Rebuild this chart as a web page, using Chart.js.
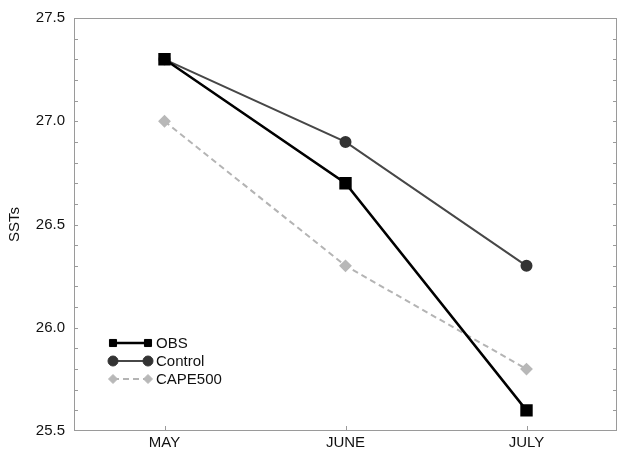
<!DOCTYPE html>
<html>
<head>
<meta charset="utf-8">
<script src="https://cdn.jsdelivr.net/npm/chart.js@4/dist/chart.umd.min.js"></script>
<style>
  html, body { margin: 0; padding: 0; background: #fff; }
  canvas { display: block; }
</style>
</head>
<body>
<canvas id="c" width="617" height="449"></canvas>
<script>
// Monthly SSTs: observations against two model runs
const months = ['MAY', 'JUNE', 'JULY'];
const obs = [27.3, 26.7, 25.6];
const control = [27.3, 26.9, 26.3];
const cape500 = [27.0, 26.3, 25.8];
const yMin = 25.5, yMax = 27.5, yStep = 0.5, yMinorStep = 0.1;

const FONT = '"Liberation Sans", Arial, Helvetica, sans-serif';

// Boxed frame with small inward ticks on left, right and bottom edges
const framePlugin = {
  id: 'frame',
  afterDraw(chart) {
    const { ctx, chartArea: a, scales } = chart;
    const y = scales.y, x = scales.x;
    ctx.save();
    ctx.strokeStyle = '#9a9a9a';
    ctx.lineWidth = 1;
    ctx.strokeRect(a.left + 0.5, a.top + 0.5, a.right - a.left - 1, a.bottom - a.top - 1);
    ctx.beginPath();
    const n = Math.round((yMax - yMin) / yMinorStep);
    for (let i = 1; i < n; i++) {
      const py = Math.round(y.getPixelForValue(yMin + i * yMinorStep)) + 0.5;
      ctx.moveTo(a.left, py); ctx.lineTo(a.left + 4, py);
      ctx.moveTo(a.right, py); ctx.lineTo(a.right - 4, py);
    }
    months.forEach((m, i) => {
      const px = Math.round(x.getPixelForValue(i)) + 0.5;
      ctx.moveTo(px, a.bottom); ctx.lineTo(px, a.bottom - 5);
    });
    ctx.stroke();
    ctx.restore();
  }
};

// Legend drawn as a line segment with a marker at each end
const legendPlugin = {
  id: 'segLegend',
  afterDatasetsDraw(chart) {
    const { ctx, chartArea: a } = chart;
    const x0 = a.left + 39, x1 = a.left + 74, tx = a.left + 82;
    const rowY = [343, 361, 379];
    ctx.save();
    chart.data.datasets.forEach((ds, i) => {
      const yy = rowY[i];
      ctx.beginPath();
      ctx.strokeStyle = ds.borderColor;
      ctx.lineWidth = ds.borderWidth;
      ctx.setLineDash(ds.borderDash || []);
      ctx.moveTo(x0, yy); ctx.lineTo(x1, yy);
      ctx.stroke();
      ctx.setLineDash([]);
      const opts = {
        pointStyle: ds.pointStyle, radius: ds.legendRadius, rotation: 0,
        borderWidth: 1
      };
      ctx.fillStyle = ds.pointBackgroundColor;
      ctx.strokeStyle = ds.pointBorderColor;
      ctx.lineWidth = 1;
      Chart.helpers.drawPoint(ctx, opts, x0, yy);
      Chart.helpers.drawPoint(ctx, opts, x1, yy);
      ctx.fillStyle = '#111';
      ctx.font = '15px ' + FONT;
      ctx.textBaseline = 'middle';
      ctx.textAlign = 'left';
      ctx.fillText(ds.label, tx, yy + 1);
    });
    ctx.restore();
  }
};

new Chart(document.getElementById('c'), {
  type: 'line',
  data: {
    labels: months,
    datasets: [
      {
        label: 'OBS', data: obs,
        borderColor: '#000', borderWidth: 2.5,
        pointStyle: 'rect', pointRadius: 7, legendRadius: 5,
        pointBackgroundColor: '#000', pointBorderColor: '#000',
        tension: 0
      },
      {
        label: 'Control', data: control,
        borderColor: '#474747', borderWidth: 2,
        pointStyle: 'circle', pointRadius: 5, legendRadius: 5,
        pointBackgroundColor: '#333', pointBorderColor: '#333',
        tension: 0
      },
      {
        label: 'CAPE500', data: cape500,
        borderColor: '#b4b4b4', borderWidth: 2, borderDash: [6, 4],
        pointStyle: 'rectRot', pointRadius: 5, legendRadius: 4.5,
        pointBackgroundColor: '#b8b8b8', pointBorderColor: '#b8b8b8',
        tension: 0
      }
    ]
  },
  options: {
    responsive: false,
    animation: false,
    layout: { autoPadding: false, padding: { top: 17, right: 0, bottom: 0, left: 0 } },
    plugins: { legend: { display: false }, tooltip: { enabled: false } },
    scales: {
      x: {
        offset: true,
        grid: { display: false, drawTicks: false },
        border: { display: false },
        ticks: { color: '#111', font: { family: FONT, size: 15 }, padding: 3, maxRotation: 0 },
        afterFit(s) { s.height = 17; s.paddingLeft = 0; s.paddingRight = 0; }
      },
      y: {
        min: yMin, max: yMax,
        grid: { display: false, drawTicks: false },
        border: { display: false },
        ticks: {
          stepSize: yStep, color: '#111', padding: 9,
          font: { family: FONT, size: 15 },
          callback: v => Number(v).toFixed(1)
        },
        title: {
          display: true, text: 'SSTs', color: '#111',
          font: { family: FONT, size: 15 }, padding: { top: 6, bottom: 0 }
        },
        afterFit(s) { s.width = 74; }
      }
    }
  },
  plugins: [framePlugin, legendPlugin]
});
</script>
</body>
</html>
